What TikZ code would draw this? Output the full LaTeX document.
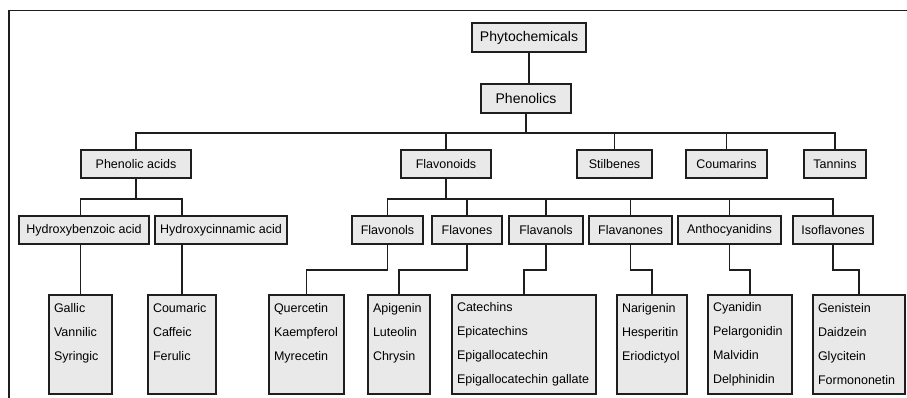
\documentclass[tikz,border=0pt]{standalone}
\usepackage{fontspec}
\setmainfont{Liberation Sans}
\usetikzlibrary{positioning}
\definecolor{boxgray}{RGB}{233,233,233}
\definecolor{inkgray}{RGB}{30,30,30}
\tikzset{cat node/.style={draw=inkgray,line width=1.9pt,fill=boxgray,minimum height=28pt,inner xsep=2pt,inner ysep=0pt,font=\fontsize{12.5}{15}\selectfont} }
\tikzset{leaf node/.style={draw=inkgray,line width=1.9pt,fill=boxgray,anchor=north,minimum height=99pt,inner xsep=5pt,align=left,font=\fontsize{12.5}{24}\selectfont} }
\tikzset{link/.style={draw=inkgray,line width=1.9pt} }

\begin{document}
\begin{tikzpicture}[x=1pt,y=-1pt]
\useasboundingbox (0,0) rectangle (907,398);
\draw[inkgray,line width=1.3pt] (9,398) -- (9,10.7) -- (907,10.7);

  % top
  \node[cat node,minimum width=114pt,minimum height=29pt,font=\fontsize{14}{16}\selectfont] (phy) at (529,37.5) {Phytochemicals};
  \node[cat node,minimum width=90pt,minimum height=29pt,font=\fontsize{14}{16}\selectfont] (phen) at (526,98.5) {Phenolics};

  % classes
  \node[cat node,minimum width=110pt] (pa) at (136,164) {Phenolic acids};
  \node[cat node,minimum width=90pt] (fnd) at (446,164) {Flavonoids};
  \node[cat node,minimum width=75pt] (stil) at (614.5,164) {Stilbenes};
  \node[cat node,minimum width=81pt] (coum) at (726.5,164) {Coumarins};
  \node[cat node,minimum width=62pt] (tan) at (835,164) {Tannins};

  % subclasses
  \node[cat node,minimum width=130pt] (hb) at (84,230) {Hydroxybenzoic acid};
  \node[cat node,minimum width=132pt] (hc) at (221,230) {Hydroxycinnamic acid};
  \node[cat node,minimum width=71pt] (fnol) at (387.5,230) {Flavonols};
  \node[cat node,minimum width=70pt] (fnes) at (467,230) {Flavones};
  \node[cat node,minimum width=74pt] (fnal) at (546,230) {Flavanols};
  \node[cat node,minimum width=83pt] (fnon) at (630.5,230) {Flavanones};
  \node[cat node,minimum width=103pt] (anth) at (729.5,230) {Anthocyanidins};
  \node[cat node,minimum width=80pt] (iso) at (833,230) {Isoflavones};

  % compounds
  \node[leaf node,text width=53pt] (gal) at (80.5,294) {Gallic\\Vannilic\\Syringic\\\mbox{}};
  \node[leaf node,text width=58pt] (cou) at (182,294) {Coumaric\\Caffeic\\Ferulic\\\mbox{}};
  \node[leaf node,text width=65pt] (quer) at (306.5,294) {Quercetin\\Kaempferol\\Myrecetin\\\mbox{}};
  \node[leaf node,text width=52pt] (api) at (399,294) {Apigenin\\Luteolin\\Chrysin\\\mbox{}};
  \node[leaf node,text width=134pt] (cat) at (524,294) {Catechins\\Epicatechins\\Epigallocatechin\\Epigallocatechin gallate};
  \node[leaf node,text width=60pt] (nar) at (652,294) {Narigenin\\Hesperitin\\Eriodictyol\\\mbox{}};
  \node[leaf node,text width=74pt] (cya) at (750,294) {Cyanidin\\Pelargonidin\\Malvidin\\Delphinidin};
  \node[leaf node,text width=82pt] (gen) at (859,294) {Genistein\\Daidzein\\Glycitein\\Formononetin};

  % connectors
  \draw[link] (phy.south) -- (phy.south |- phen.north);
  \draw[link] (phen.south) -- ++(0,19) coordinate (top bus);
  \draw[link] (pa.north) |- (top bus) -| (tan.north);
  \foreach \n in {fnd,stil,coum}
    \draw[link] (\n.north) -- (\n.north |- top bus);

  \draw[link] (pa.south) -- ++(0,20) coordinate (pa bus);
  \draw[link] (gal.north |- hb.north) |- (pa bus) -| (cou.north |- hc.north);
  \draw[link] (gal.north) -- (gal.north |- hb.south);
  \draw[link] (cou.north) -- (cou.north |- hc.south);

  \draw[link] (fnd.south) -- ++(0,20) coordinate (fnd bus);
  \draw[link] (fnol.north) |- (fnd bus) -| (iso.north);
  \foreach \n in {fnes,fnal,fnon,anth}
    \draw[link] (\n.north) -- (\n.north |- fnd bus);

  \foreach \a/\b in {fnol/quer,fnes/api,fnal/cat,fnon/nar,anth/cya,iso/gen}
    \draw[link] (\a.south) -- ++(0,25) -| (\b.north);
\end{tikzpicture}
\end{document}
